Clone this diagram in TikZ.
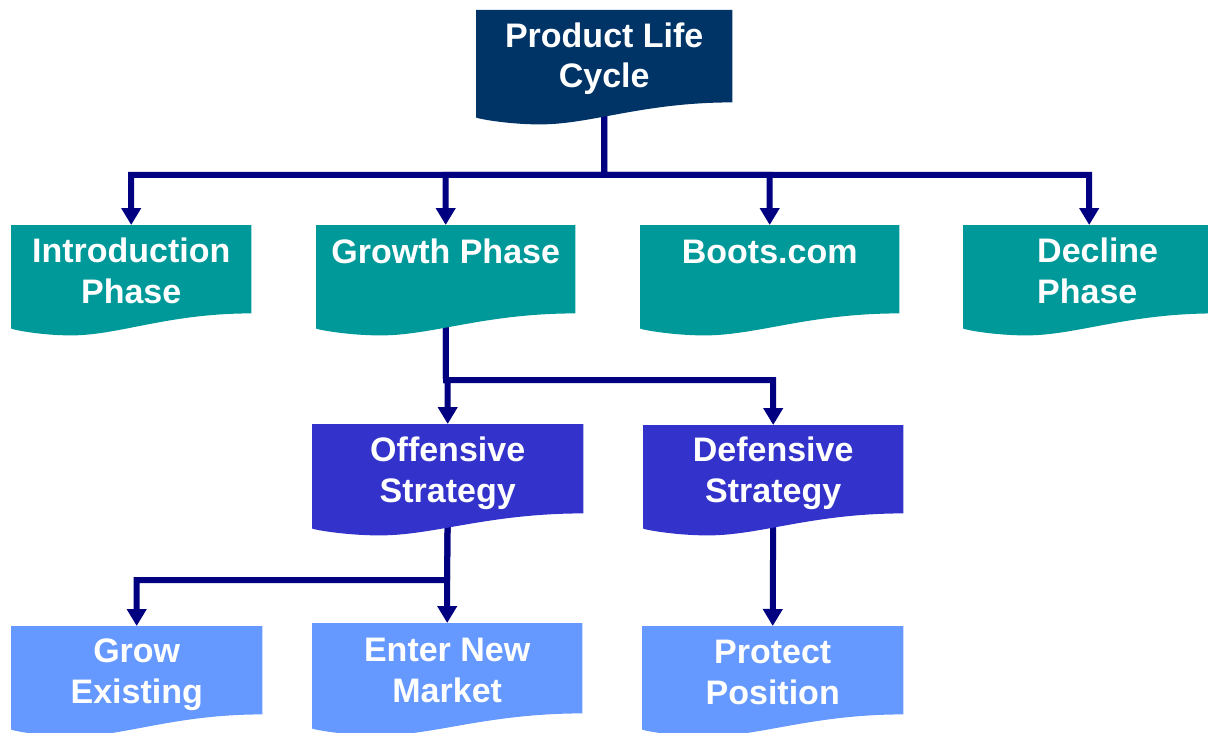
\documentclass[tikz,border=0pt]{standalone}
\usepackage{fontspec}
\setmainfont{Liberation Sans}
\usetikzlibrary{calc,arrows.meta}
\definecolor{navybox}{HTML}{003366}
\definecolor{tealbox}{HTML}{009999}
\definecolor{violetbox}{HTML}{3333CC}
\definecolor{skybox}{HTML}{6699FF}
\definecolor{linknavy}{HTML}{000080}
\pgfdeclarelayer{links}
\pgfsetlayers{links,main}
\tikzset{
  docbox/.style={draw=none, rectangle, inner sep=0pt, anchor=north west},
  % labels are placed by the baseline of their last line
  doctext/.style={text=white, font=\fontsize{34}{40.5}\selectfont\bfseries,
                  align=center, inner sep=0pt, anchor=base},
  link/.style={draw=linknavy, line width=6pt},
  linkarrow/.style={link, -{Triangle[width=19pt,length=17pt]}},
}
% document shape: box with a wavy lower edge
\newcommand{\wavefill}[2]{%
  \fill[#2] (#1.north west) -- (#1.north east) -- (#1.south east)
    .. controls ($(#1.south west)!0.65!(#1.south east)$)
           and ($(#1.south west)!0.45!(#1.south east)+(0,22)$)
    .. ($(#1.south west)!0.25!(#1.south east)+(0,22)$)
    .. controls ($(#1.south west)!0.12!(#1.south east)+(0,22)$)
           and ($(#1.south west)+(0,16)$)
    .. ($(#1.south west)+(0,15)$) -- cycle;}
\begin{document}
\begin{tikzpicture}[x=1pt,y=-1pt]
\useasboundingbox (0,0) rectangle (1208,733);

% box outlines
\node[docbox, minimum width=256pt, minimum height=92pt] (plc) at (476,10) {};
\node[docbox, minimum width=240pt, minimum height=88pt] (intro) at (11,225) {};
\node[docbox, minimum width=259pt, minimum height=88pt] (growth) at (316,225) {};
\node[docbox, minimum width=259pt, minimum height=88pt] (boots) at (640,225) {};
\node[docbox, minimum width=252pt, minimum height=88pt] (decline) at (963,225) {};
\node[docbox, minimum width=271pt, minimum height=89pt] (offense) at (312,424) {};
\node[docbox, minimum width=260pt, minimum height=88pt] (defense) at (643,425) {};
\node[docbox, minimum width=251pt, minimum height=88pt] (grow) at (11,626) {};
\node[docbox, minimum width=270pt, minimum height=90pt] (enter) at (312,623) {};
\node[docbox, minimum width=261pt, minimum height=88pt] (protect) at (642,626) {};

\wavefill{plc}{navybox}
\wavefill{intro}{tealbox}
\wavefill{growth}{tealbox}
\wavefill{boots}{tealbox}
\wavefill{decline}{tealbox}
\wavefill{offense}{violetbox}
\wavefill{defense}{violetbox}
\wavefill{grow}{skybox}
\wavefill{enter}{skybox}
\wavefill{protect}{skybox}

% labels
\node[doctext] (plc-t) at ([yshift=-78pt]plc.north) {Product Life\\Cycle};
\node[doctext] (intro-t) at ([yshift=-78pt]intro.north) {Introduction\\Phase};
\node[doctext] (growth-t) at ([yshift=-38pt]growth.north) {Growth Phase};
\node[doctext] (boots-t) at ([yshift=-38pt]boots.north) {Boots.com};
\node[doctext, align=left, anchor=base west] (decline-t) at (1037,303) {Decline\\Phase};
\node[doctext] (offense-t) at ([yshift=-78pt]offense.north) {Offensive\\Strategy};
\node[doctext] (defense-t) at ([yshift=-77pt]defense.north) {Defensive\\Strategy};
\node[doctext] (grow-t) at ([yshift=-77pt]grow.north) {Grow\\Existing};
\node[doctext] (enter-t) at ([yshift=-79pt]enter.north) {Enter New\\Market};
\node[doctext] (protect-t) at ([yshift=-78pt]protect.north) {Protect\\Position};

% connectors
\coordinate (bus1) at (604,175);
\coordinate (bus2) at (446,380);
\coordinate (bus3) at (447,580);
\begin{pgfonlayer}{links}
  \draw[linkarrow] (plc.south) -- (bus1) -| (intro.north);
  \draw[linkarrow] (plc.south) -- (bus1) -| (growth.north);
  \draw[linkarrow] (plc.south) -- (bus1) -| (boots.north);
  \draw[linkarrow] (plc.south) -- (bus1) -| (decline.north);
  \draw[linkarrow] (growth.south) -- (bus2) -| (offense.north);
  \draw[linkarrow] (growth.south) -- (bus2) -| (defense.north);
  \draw[linkarrow] (offense.south) -- (bus3) -| (grow.north);
  \draw[linkarrow] (offense.south) -- (bus3) -| (enter.north);
  \draw[linkarrow] (defense.south) -- (protect.north);
\end{pgfonlayer}
\end{tikzpicture}
\end{document}
